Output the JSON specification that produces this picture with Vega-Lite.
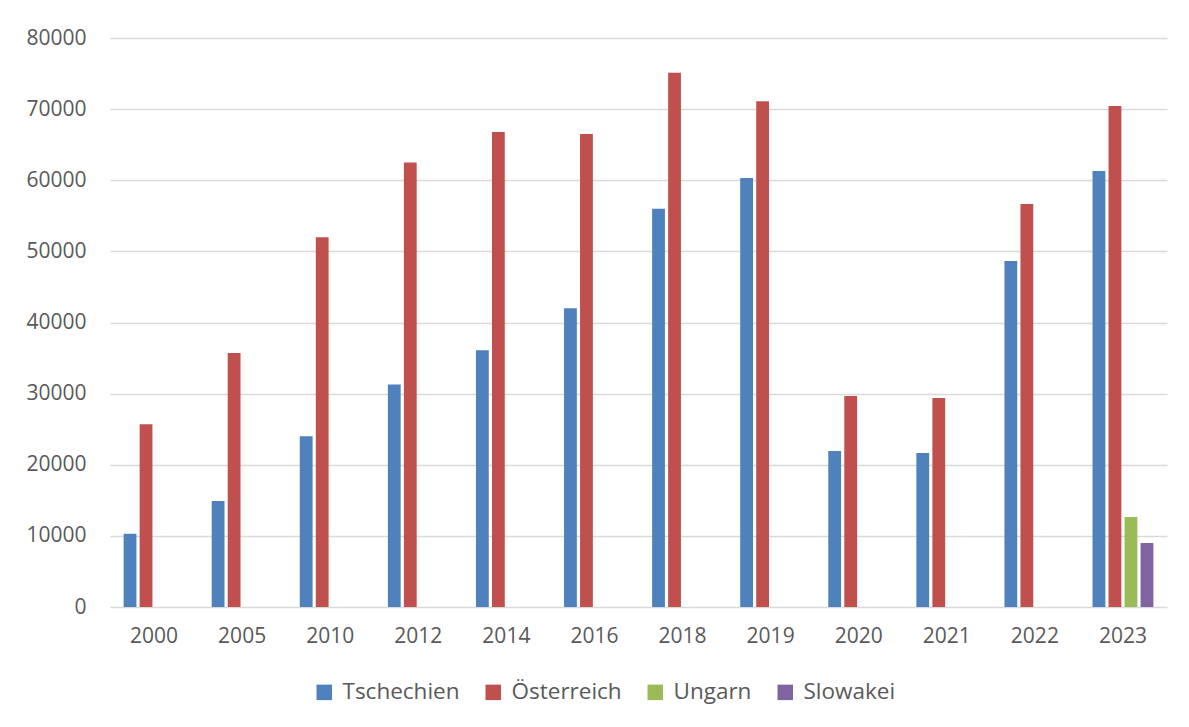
{
  "$schema": "https://vega.github.io/schema/vega-lite/v6.json",
  "autosize": {"type": "none"},
  "width": 1057,
  "height": 569,
  "padding": {"left": 110, "top": 38, "right": 22, "bottom": 120},
  "background": "white",
  "config": {
    "font": "Open Sans",
    "view": {"stroke": null},
    "axis": {"labelFont": "Open Sans", "labelFontSize": 21, "labelColor": "#595959"},
    "legend": {"labelFont": "Open Sans", "labelFontSize": 22.5, "labelColor": "#595959"}
  },
  "data": {
    "values": [
      {"Jahr": "2000", "Land": "Tschechien", "Wert": 10300},
      {"Jahr": "2000", "Land": "Österreich", "Wert": 25700},
      {"Jahr": "2005", "Land": "Tschechien", "Wert": 14900},
      {"Jahr": "2005", "Land": "Österreich", "Wert": 35700},
      {"Jahr": "2010", "Land": "Tschechien", "Wert": 24000},
      {"Jahr": "2010", "Land": "Österreich", "Wert": 52000},
      {"Jahr": "2012", "Land": "Tschechien", "Wert": 31300},
      {"Jahr": "2012", "Land": "Österreich", "Wert": 62500},
      {"Jahr": "2014", "Land": "Tschechien", "Wert": 36100},
      {"Jahr": "2014", "Land": "Österreich", "Wert": 66800},
      {"Jahr": "2016", "Land": "Tschechien", "Wert": 42000},
      {"Jahr": "2016", "Land": "Österreich", "Wert": 66500},
      {"Jahr": "2018", "Land": "Tschechien", "Wert": 56000},
      {"Jahr": "2018", "Land": "Österreich", "Wert": 75100},
      {"Jahr": "2019", "Land": "Tschechien", "Wert": 60300},
      {"Jahr": "2019", "Land": "Österreich", "Wert": 71100},
      {"Jahr": "2020", "Land": "Tschechien", "Wert": 21950},
      {"Jahr": "2020", "Land": "Österreich", "Wert": 29650},
      {"Jahr": "2021", "Land": "Tschechien", "Wert": 21650},
      {"Jahr": "2021", "Land": "Österreich", "Wert": 29400},
      {"Jahr": "2022", "Land": "Tschechien", "Wert": 48650},
      {"Jahr": "2022", "Land": "Österreich", "Wert": 56650},
      {"Jahr": "2023", "Land": "Tschechien", "Wert": 61300},
      {"Jahr": "2023", "Land": "Österreich", "Wert": 70450},
      {"Jahr": "2023", "Land": "Ungarn", "Wert": 12650},
      {"Jahr": "2023", "Land": "Slowakei", "Wert": 9000}
    ]
  },
  "mark": {"type": "bar"},
  "encoding": {
    "x": {
      "field": "Jahr",
      "type": "nominal",
      "scale": {"paddingInner": 0.2727, "paddingOuter": 0.1364},
      "axis": {"title": null, "labelAngle": 0, "ticks": false, "domain": false, "labelPadding": 18, "grid": false}
    },
    "xOffset": {
      "field": "Land",
      "type": "nominal",
      "scale": {"domain": ["Tschechien", "Österreich", "Ungarn", "Slowakei"], "paddingInner": 0.2, "paddingOuter": 0.1}
    },
    "y": {
      "field": "Wert",
      "type": "quantitative",
      "scale": {"domain": [0, 80000], "nice": false},
      "axis": {
        "title": null,
        "values": [0, 10000, 20000, 30000, 40000, 50000, 60000, 70000, 80000],
        "format": "d",
        "ticks": false,
        "domain": false,
        "labelPadding": 24,
        "gridColor": "#d9d9d9",
        "gridWidth": 1.5
      }
    },
    "color": {
      "field": "Land",
      "type": "nominal",
      "scale": {
        "domain": ["Tschechien", "Österreich", "Ungarn", "Slowakei"],
        "range": ["#4f81bd", "#c0504d", "#9bbb59", "#8064a2"]
      },
      "legend": {
        "title": null,
        "orient": "none",
        "legendX": 203,
        "legendY": 643,
        "direction": "horizontal",
        "symbolType": "square",
        "symbolSize": 240,
        "symbolStrokeWidth": 0,
        "columnPadding": 22,
        "labelOffset": 7
      }
    }
  }
}
